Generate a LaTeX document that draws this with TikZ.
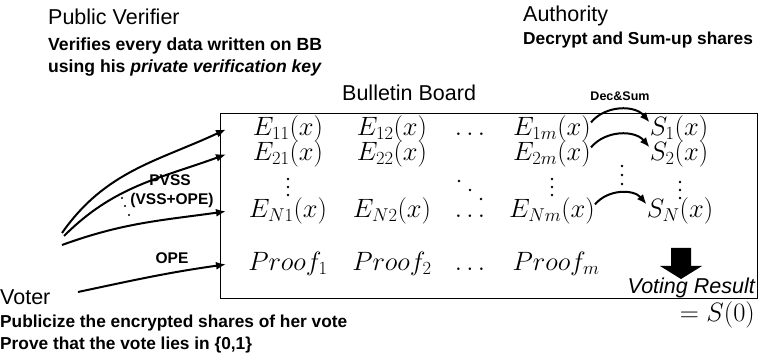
\RequirePackage{fix-cm}
\documentclass[tikz,border=0pt]{standalone}
\usepackage{fontspec}
\newfontfamily\arial{Liberation Sans}
\usepackage{tikz}
\usetikzlibrary{positioning}
\usetikzlibrary{arrows.meta}

\begin{document}
\begin{tikzpicture}[x=1pt, y=1pt,
    role/.style={anchor=base west, inner sep=0, font=\arial\fontsize{21.5}{24}\selectfont},
    task/.style={anchor=base west, inner sep=0, font=\arial\bfseries\fontsize{17.6}{20}\selectfont},
    cell/.style={anchor=base, inner xsep=0, inner ysep=-1.5pt, font=\fontsize{26.5}{30}\selectfont},
    tag/.style={inner sep=0, font=\arial\bfseries\fontsize{15.5}{18}\selectfont},
    post/.style={-{Latex[length=10pt,width=8pt]}, line width=2pt}]

    \useasboundingbox (0,0) rectangle (761,356);

    % Public Verifier
    \node (pv) [role] at (48,331) {Public Verifier};
    \node (pv1) [task] at (48,305) {Verifies every data written on BB};
    \node (pv2) [task] at (48,283) {using his \textit{private verification key}};

    % Authority
    \node (au) [role] at (523,334) {Authority};
    \node (au1) [task, font=\arial\bfseries\fontsize{17.3}{20}\selectfont] at (523,311) {Decrypt and Sum-up shares};

    % Bulletin Board
    \node (bb) [draw, line width=1pt, minimum width=537, minimum height=185, anchor=north west, inner sep=0] at (220,243) {};
    \node (bbt) [role] at (342,255) {Bulletin Board};

    % Shares
    \node (e11) [cell] at (288,220) {$E_{11}(x)$};
    \node (e12) [cell] at (392,220) {$E_{12}(x)$};
    \node (d1)  [cell] at (470,220) {$\dots$};
    \node (e1m) [cell] at (552,220) {$E_{1m}(x)$};
    \node (s1)  [cell] at (679,220) {$S_1(x)$};

    \node (e21) [cell] at (288,195) {$E_{21}(x)$};
    \node (e22) [cell] at (392,195) {$E_{22}(x)$};
    \node (e2m) [cell] at (552,195) {$E_{2m}(x)$};
    \node (s2)  [cell] at (679,195) {$S_2(x)$};

    \node (en1) [cell] at (288,138) {$E_{N1}(x)$};
    \node (en2) [cell] at (392,138) {$E_{N2}(x)$};
    \node (dn)  [cell] at (470,138) {$\dots$};
    \node (enm) [cell] at (552,138) {$E_{Nm}(x)$};
    \node (sn)  [cell] at (680,138) {$S_N(x)$};

    \node (p1) [cell] at (288,85) {$Proof_1$};
    \node (p2) [cell] at (392,85) {$Proof_2$};
    \node (dp) [cell] at (470,85) {$\dots$};
    \node (pm) [cell] at (556,85) {$Proof_m$};

    % dots between the rows
    \fill (288,177) circle (1.4) (288,169) circle (1.4) (288,161) circle (1.4);
    \fill (459,175) circle (1.4) (470,166) circle (1.4) (481,157) circle (1.4);
    \fill (552,177) circle (1.4) (552,169) circle (1.4) (552,161) circle (1.4);
    \fill (622,190) circle (1.4) (622,181) circle (1.4) (622,172) circle (1.4);
    \fill (680,174) circle (1.4) (680,166) circle (1.4) (680,158) circle (1.4);

    % Dec&Sum
    \node (ds) [tag, font=\arial\bfseries\fontsize{12.5}{14}\selectfont] at (620,260) {Dec\&Sum};
    \draw[post] ([yshift=7]e1m.east) to[bend left=50] ([yshift=7]s1.west);
    \draw[post] ([yshift=7]e2m.east) to[bend left=50] ([yshift=7]s2.west);
    \draw[post] ([yshift=7]enm.east) to[bend left=50] ([yshift=7]sn.west);

    % Voting Result
    \fill (671,108) -- (691,108) -- (691,90) -- (702,90) -- (681,77) -- (660,90) -- (671,90) -- cycle;
    \node (vr) [role, anchor=base east, font=\arial\itshape\fontsize{21.5}{24}\selectfont] at (755,62) {Voting Result};
    \node (res) [cell, anchor=base east] at (755,34) {$=S(0)$};

    % Voter
    \node (vo) [role] at (0,51) {Voter};
    \node (vo1) [task, font=\arial\bfseries\fontsize{17.3}{20}\selectfont] at (0,28) {Publicize the encrypted shares of her vote};
    \node (vo2) [task, font=\arial\bfseries\fontsize{17.3}{20}\selectfont] at (0,6) {Prove that the vote lies in \{0,1\}};

    % Arrows
    \coordinate (a1) at (62,123);
    \coordinate (a2) at (64,120);
    \coordinate (a3) at (62,111);
    \coordinate (a4) at (78,64);
    \draw[post] (a1) to[out=55,in=205] ([xshift=6]bb.west |- e11);
    \draw[post] (a2) to[out=45,in=200] ([xshift=6]bb.west |- e21);
    \draw[post] (a3) to[out=20,in=188] ([xshift=6]bb.west |- en1);
    \draw[post] (a4) to[out=12,in=188] ([xshift=6]bb.west |- p1);
    \node (pvss) [tag] at (170,176) {PVSS};
    \node (vss) [tag] at (172,156) {(VSS+OPE)};
    \node (ope) [tag] at (172,98) {OPE};
    \fill (122,158) circle (1.1) (125,150) circle (1.1) (129,141) circle (1.1);

\end{tikzpicture}
\end{document}
